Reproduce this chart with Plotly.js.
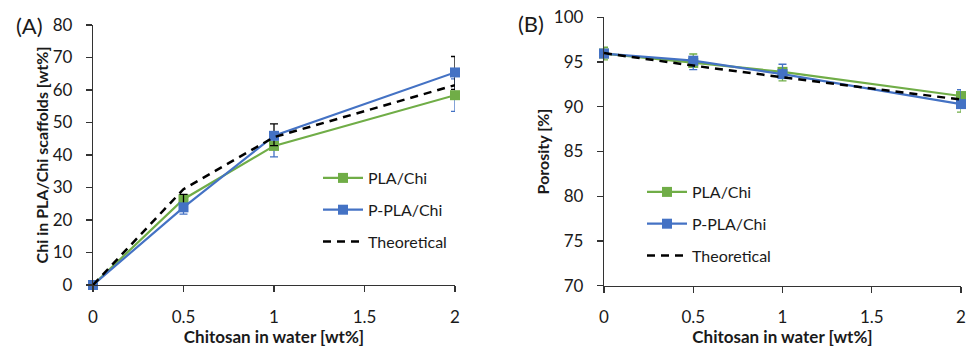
<!DOCTYPE html>
<html>
<head>
<meta charset="utf-8">
<script src="https://cdn.plot.ly/plotly-3.0.1.min.js"></script>
<style>html,body{margin:0;padding:0;background:#fff;}#chart{width:968px;height:347px;}</style>
</head>
<body>
<div id="chart"></div>
<script>
// Shared x categories
const chitosanWt = [0, 0.5, 1, 2];
const xTicks = [0, 0.5, 1, 1.5, 2];

// Panel A: Chi content in scaffolds [wt%]
const chiPLA = [0, 26.4, 42.8, 58.4];
const chiPLAErrPlus = [0, 0, 0, 5];
const chiPLAErrMinus = [0, 4.6, 3.4, 5];
const chiPPLA = [0, 23.9, 45.9, 65.4];
const chiPPLAErrPlus = [0, 4.0, 3.7, 4.9];
const chiPPLAErrMinus = [0, 0, 3, 5.2];
const chiTheory = [0, 29.5, 45.5, 61.5];

// Panel B: Porosity [%]
const porPLA = [95.95, 94.9, 93.9, 91.2];
const porPLAErrPlus = [0.7, 1.0, 0, 0];
const porPLAErrMinus = [0.7, 0, 1.0, 1.8];
const porPPLA = [95.95, 95.15, 93.65, 90.3];
const porPPLAErrPlus = [0, 0, 1.1, 1.6];
const porPPLAErrMinus = [0, 1.0, 0, 0];
const porTheory = [96, 94.6, 93.3, 90.8];

const GREEN = '#70AD47', BLUE = '#4472C4';
const FONT = 'Lato, "Open Sans", sans-serif';
const TXT = '#1a1a1a';

function series(x, y, name, color, xa, ya, leg, errP, errM, errColor, show) {
  const t = {
    x: x, y: y, name: name, type: 'scatter', mode: 'lines+markers',
    xaxis: xa, yaxis: ya, legend: leg, legendgroup: leg + name,
    line: {color: color, width: 2.2},
    marker: {symbol: 'square', size: 10, color: color},
    cliponaxis: false, showlegend: show
  };
  if (errP) {
    t.error_y = {type: 'data', symmetric: false, array: errP, arrayminus: errM,
      color: errColor, thickness: 1.3, width: 4};
  }
  return t;
}
function theory(x, y, xa, ya, leg) {
  return {x: x, y: y, name: 'Theoretical', type: 'scatter', mode: 'lines',
    xaxis: xa, yaxis: ya, legend: leg, legendgroup: leg + 'T',
    line: {color: '#000', width: 2.5, dash: '8px,6px'}, cliponaxis: false};
}

const data = [
  series(chitosanWt, chiPLA, 'PLA/Chi', GREEN, 'x', 'y', 'legend', chiPLAErrPlus, chiPLAErrMinus, BLUE, true),
  series(chitosanWt, chiPPLA, 'P-PLA/Chi', BLUE, 'x', 'y', 'legend', chiPPLAErrPlus, chiPPLAErrMinus, '#000', true),
  theory(chitosanWt, chiTheory, 'x', 'y', 'legend'),
  series(chitosanWt, porPLA, 'PLA/Chi', GREEN, 'x2', 'y2', 'legend2', porPLAErrPlus, porPLAErrMinus, GREEN, true),
  series(chitosanWt, porPPLA, 'P-PLA/Chi', BLUE, 'x2', 'y2', 'legend2', porPPLAErrPlus, porPPLAErrMinus, BLUE, true),
  theory(chitosanWt, porTheory, 'x2', 'y2', 'legend2')
];

const tickFont = {family: FONT, size: 17, color: TXT};

function xAxis(dom, anchor) {
  return {domain: dom, anchor: anchor, range: [0, 2], tickvals: xTicks,
    ticktext: xTicks.map(String), showgrid: false, zeroline: false,
    showline: true, linecolor: '#333', linewidth: 1.2, ticks: 'outside',
    ticklen: 6, tickcolor: '#333', tickwidth: 1.2, tickfont: tickFont,
    ticklabelstandoff: 10,
    title: {text: '<b>Chitosan in water [wt%]</b>',
      font: {family: FONT, size: 17, color: TXT}, standoff: 8}};
}
function yAxis(dom, anchor, range, dtick, title, standoff) {
  return {domain: dom, anchor: anchor, range: range, dtick: dtick, tick0: range[0],
    showgrid: false, zeroline: false, showline: true, linecolor: '#333',
    linewidth: 1.2, ticks: 'outside', ticklen: 6, tickcolor: '#333', tickwidth: 1.2,
    tickfont: tickFont, ticklabelstandoff: 10,
    title: {text: '<b>' + title + '</b>', font: {family: FONT, size: 16, color: TXT},
      standoff: standoff}};
}

const layout = {
  width: 968, height: 347,
  margin: {l: 0, r: 0, t: 0, b: 0},
  paper_bgcolor: '#fff', plot_bgcolor: '#fff',
  font: {family: FONT, color: TXT},
  xaxis: xAxis([93/968, 455/968], 'y'),
  yaxis: yAxis([62/347, 322/347], 'x', [0, 80], 10, 'Chi in PLA/Chi scaffolds [wt%]', 0),
  xaxis2: xAxis([604/968, 961/968], 'y2'),
  yaxis2: yAxis([61.3/347, 329.7/347], 'x2', [70, 100], 5, 'Porosity [%]', 0),
  legend: {x: 318/968, y: (347-161)/347, xanchor: 'left', yanchor: 'top',
    bgcolor: 'rgba(0,0,0,0)', font: {family: FONT, size: 16, color: TXT},
    traceorder: 'grouped', tracegroupgap: 8, itemwidth: 40},
  legend2: {x: 642/968, y: (347-175)/347, xanchor: 'left', yanchor: 'top',
    bgcolor: 'rgba(0,0,0,0)', font: {family: FONT, size: 16, color: TXT},
    traceorder: 'grouped', tracegroupgap: 8, itemwidth: 40},
  annotations: [
    {text: '(A)', x: 29/968, y: (347-25)/347, xref: 'paper', yref: 'paper',
      xanchor: 'center', yanchor: 'middle',
      showarrow: false, font: {family: FONT, size: 22, color: TXT}},
    {text: '(B)', x: 531/968, y: (347-23)/347, xref: 'paper', yref: 'paper',
      xanchor: 'center', yanchor: 'middle',
      showarrow: false, font: {family: FONT, size: 22, color: TXT}}
  ],
  showlegend: true
};

Plotly.newPlot('chart', data, layout, {displayModeBar: false, staticPlot: true});
</script>
</body>
</html>
